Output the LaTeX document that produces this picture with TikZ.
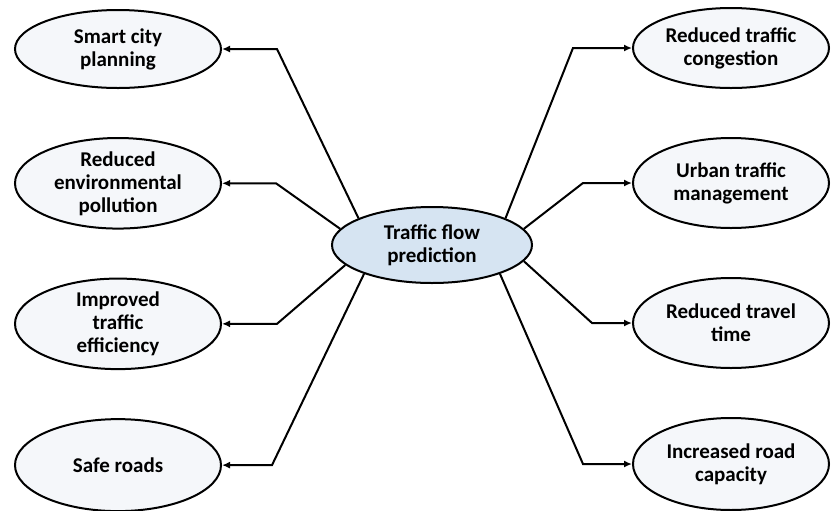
\documentclass[tikz,border=0pt]{standalone}
\usepackage{fontspec}
\setmainfont{Carlito}
\usepackage{xcolor}
\usetikzlibrary{shapes.geometric,arrows.meta,positioning}
\definecolor{outfill}{RGB}{245,247,250}
\definecolor{flowfill}{RGB}{214,228,242}
\tikzset{
  outcome/.style={ellipse, draw, line width=1pt, fill=outfill, inner sep=0pt,
    minimum width=103pt, minimum height=45pt, align=center,
    font=\fontsize{10.5}{11.5}\selectfont\bfseries},
  hub/.style={outcome, fill=flowfill, minimum width=100pt, minimum height=38pt},
  link/.style={line width=1pt, -{Latex[length=4pt,width=3.5pt]}}
}
\begin{document}
\begin{tikzpicture}[x=0.5pt,y=-0.5pt,node distance=24pt]
\useasboundingbox (0,0) rectangle (832,510);
% nodes
 \node[hub] (flow) at (432,245) {Traffic flow\\prediction};
 \node[outcome, minimum height=39pt] (city) at (118,49) {Smart city\\planning};
 \node[outcome, below=of city] (env) {Reduced\\environmental\\pollution};
 \node[outcome, below=of env] (eff) {Improved\\traffic\\efficiency};
 \node[outcome, below=of eff, minimum height=46pt] (safe) {Safe roads};
 \node[outcome, minimum width=98pt, minimum height=40pt] (cong) at (731,48) {Reduced traffic\\congestion};
 \node[outcome, minimum width=98pt, below=of cong] (urban) {Urban traffic\\management};
 \node[outcome, minimum width=98pt, below=of urban] (travel) {Reduced travel\\time};
 \node[outcome, minimum width=98pt, minimum height=46pt, below=of travel] (road) {Increased road\\capacity};
% edges
 \draw[link] (flow.160) -- ([xshift=27.5pt]city.east) -- (city.east);
 \draw[link] (flow.170) -- ([xshift=27pt]env.east) -- (env.east);
 \draw[link] (flow.193) -- ([xshift=27.5pt]eff.east) -- (eff.east);
 \draw[link] (flow.203) -- ([xshift=25pt]safe.east) -- (safe.east);
 \draw[link] (flow.20) -- ([xshift=-29.5pt]cong.west) -- (cong.west);
 \draw[link] (flow.10) -- ([xshift=-24.5pt]urban.west) -- (urban.west);
 \draw[link] (flow.350) -- ([xshift=-20pt]travel.west) -- (travel.west);
 \draw[link] (flow.337) -- ([xshift=-24.5pt]road.west) -- (road.west);
\end{tikzpicture}
\end{document}
